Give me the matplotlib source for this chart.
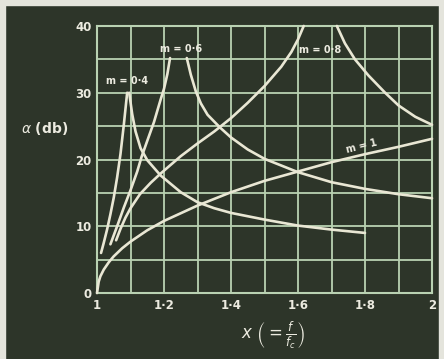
import matplotlib.pyplot as plt
from matplotlib.patches import Rectangle

# attenuation curves: x = f/fc, alpha in db
x_m04_up = [1.012, 1.02, 1.03, 1.04, 1.05, 1.06, 1.07, 1.08, 1.09]
a_m04_up = [6.0, 7.5, 9.5, 11.8, 14.3, 17.3, 20.8, 25.2, 30.0]
x_m04_dn = [1.096, 1.105, 1.115, 1.13, 1.15, 1.19, 1.25, 1.3, 1.35, 1.4, 1.5, 1.6, 1.7, 1.8]
a_m04_dn = [30.0, 26.8, 24.2, 21.7, 19.9, 17.6, 15.1, 13.6, 12.7, 12.0, 11.0, 10.1, 9.5, 9.0]

x_m06_up = [1.04, 1.06, 1.08, 1.1, 1.12, 1.133, 1.15, 1.17, 1.19, 1.2, 1.21, 1.218]
a_m06_up = [7.3, 10.0, 12.8, 15.4, 18.2, 20.4, 22.8, 25.6, 29.0, 30.6, 32.8, 35.2]
x_m06_dn = [1.268, 1.28, 1.295, 1.31, 1.33, 1.367, 1.4, 1.45, 1.5, 1.6, 1.7, 1.8, 1.9, 2.0]
a_m06_dn = [35.2, 32.7, 30.2, 28.4, 26.7, 24.8, 23.3, 21.5, 20.1, 18.1, 16.6, 15.6, 14.8, 14.2]

x_m08_up = [1.057, 1.07, 1.085, 1.1, 1.128, 1.16, 1.19, 1.25, 1.3, 1.35, 1.4, 1.45, 1.5, 1.55, 1.58, 1.6, 1.617]
a_m08_up = [7.9, 9.6, 11.3, 12.7, 14.8, 16.5, 17.9, 20.5, 22.4, 24.2, 26.2, 28.5, 31.0, 33.9, 36.1, 38.0, 40.0]
x_m08_dn = [1.716, 1.74, 1.77, 1.81, 1.86, 1.9, 1.95, 2.0]
a_m08_dn = [40.0, 37.4, 35.0, 32.6, 30.0, 28.1, 26.4, 25.2]

x_m1 = [1.0, 1.005, 1.01, 1.02, 1.035, 1.05, 1.075, 1.1, 1.15, 1.2, 1.3, 1.4, 1.5, 1.6, 1.7, 1.8, 1.9, 2.0]
a_m1 = [0.0, 1.7, 2.5, 3.5, 4.6, 5.5, 6.7, 7.7, 9.4, 10.8, 13.1, 15.1, 16.8, 18.2, 19.6, 20.8, 21.9, 23.1]

x_ticks = [1.0, 1.2, 1.4, 1.6, 1.8, 2.0]
x_ticklabels = ['1', '1·2', '1·4', '1·6', '1·8', '2']
y_ticks = [0, 10, 20, 30, 40]

bg = '#2d3529'
grid_col = '#b9d2b2'
curve_col = '#e9e7d4'
txt_col = '#ecebe0'

fig = plt.figure(figsize=(4.44, 3.59), dpi=100, facecolor=bg)
ax = fig.add_axes([0.2185, 0.1838, 0.7545, 0.7438])
ax.set_facecolor(bg)

curves = [(x_m04_up, a_m04_up), (x_m04_dn, a_m04_dn),
          (x_m06_up, a_m06_up), (x_m06_dn, a_m06_dn),
          (x_m08_up, a_m08_up), (x_m08_dn, a_m08_dn),
          (x_m1, a_m1)]
for xs, ys in curves:
    ax.plot(xs, ys, color=curve_col, lw=1.9, solid_capstyle='round',
            solid_joinstyle='round', zorder=3, clip_on=False)

ax.set_xlim(1.0, 2.0)
ax.set_ylim(0, 40)
ax.set_xticks(x_ticks)
ax.set_xticklabels(x_ticklabels)
ax.set_xticks([1.1, 1.3, 1.5, 1.7, 1.9], minor=True)
ax.set_yticks(y_ticks)
ax.set_yticks([5, 15, 25, 35], minor=True)
ax.grid(True, which='both', color=grid_col, lw=1.3, zorder=1)
ax.tick_params(which='both', length=0, colors=txt_col, labelsize=8.5, pad=4)
for lab in ax.get_xticklabels() + ax.get_yticklabels():
    lab.set_fontweight('bold')
for s in ax.spines.values():
    s.set_color(grid_col)
    s.set_linewidth(1.5)

# curve labels
lab_kw = dict(color=txt_col, fontsize=7, fontweight='bold', ha='center', va='center', zorder=4)
ax.text(1.09, 31.8, 'm = 0·4', **lab_kw)
ax.text(1.25, 36.6, 'm = 0·6', **lab_kw)
ax.text(1.666, 36.4, 'm = 0·8', **lab_kw)
ax.text(1.79, 22.0, 'm = 1', rotation=14, **lab_kw)

fig.text(0.10, 0.643, r'$\alpha$ (db)', color=txt_col, fontsize=10,
         fontweight='bold', ha='center', va='center')
fig.text(0.615, 0.067, r'$x\ \left(=\frac{f}{f_c}\right)$', color=txt_col,
         fontsize=12, ha='center', va='center')

# pale scan border round the print
for r in [(0, 0.985, 1, 0.015), (0, 0, 0.011, 1), (0.988, 0, 0.012, 1)]:
    fig.add_artist(Rectangle(r[:2], r[2], r[3], transform=fig.transFigure,
                             color='#e4e4dc', zorder=0))

fig.savefig('out.png', dpi=100, facecolor=bg)
